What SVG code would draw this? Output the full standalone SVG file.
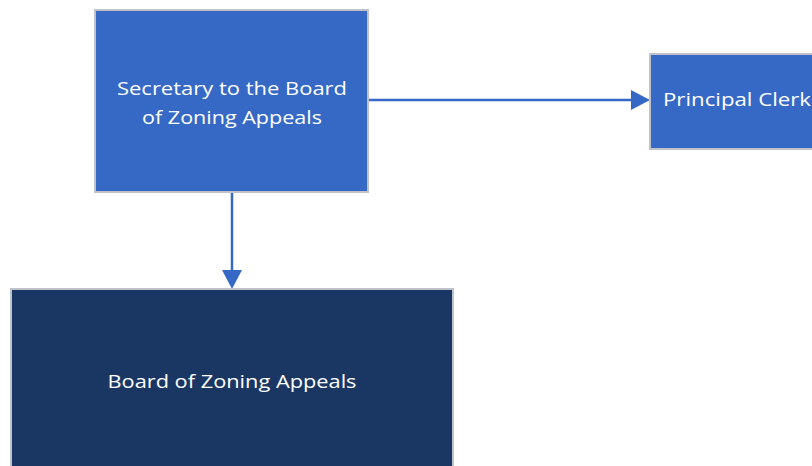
<svg xmlns="http://www.w3.org/2000/svg" width="812" height="466" viewBox="0 0 812 466">
  <defs>
    <style>
      .box { stroke: #bfc3c9; stroke-width: 2; }
      .mid { fill: #3669c6; }
      .dark { fill: #1a3764; }
      .lbl { fill: #ffffff; font-family: "Open Sans", "Liberation Sans", sans-serif; font-size: 19px; }
      .conn { stroke: #3669c6; stroke-width: 2.5; fill: none; }
      .head { fill: #3669c6; }
    </style>
  </defs>
  <rect width="812" height="466" fill="#ffffff"/>

  <g id="connectors">
    <line class="conn" x1="368" y1="100" x2="631" y2="100"/>
    <path class="head" d="M631,90 L650,100 L631,110 Z"/>
    <line class="conn" x1="232" y1="192" x2="232" y2="270"/>
    <path class="head" d="M222,270 L232,289 L242,270 Z"/>
  </g>

  <g id="secretary">
    <rect class="box mid" x="95" y="10" width="273" height="182"/>
    <text class="lbl" x="232" y="95" text-anchor="middle" textLength="230" lengthAdjust="spacingAndGlyphs">Secretary to the Board</text>
    <text class="lbl" x="232" y="124" text-anchor="middle" textLength="180" lengthAdjust="spacingAndGlyphs">of Zoning Appeals</text>
  </g>

  <g id="principal-clerk">
    <rect class="box mid" x="650" y="54" width="170" height="95"/>
    <text class="lbl" x="663" y="106" textLength="148" lengthAdjust="spacingAndGlyphs">Principal Clerk</text>
  </g>

  <g id="board">
    <rect class="box dark" x="11" y="289" width="442" height="190"/>
    <text class="lbl" x="232" y="388" text-anchor="middle" textLength="249" lengthAdjust="spacingAndGlyphs">Board of Zoning Appeals</text>
  </g>
</svg>
